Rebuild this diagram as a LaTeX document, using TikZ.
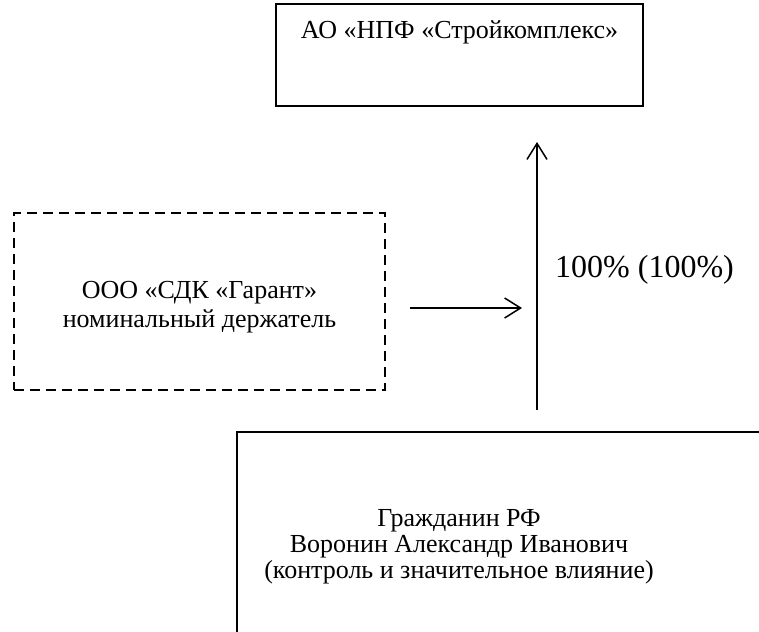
\documentclass[tikz,border=0pt]{standalone}
\usepackage{fontspec}
\setmainfont{Liberation Serif}
\usetikzlibrary{arrows.meta}
\begin{document}
\begin{tikzpicture}[x=1pt,y=-1pt,
  box/.style={draw, line width=1.5pt, inner sep=0pt},
  dbox/.style={draw, line width=2pt, dash pattern=on 10pt off 6pt, inner sep=0pt},
  txt/.style={font=\fontsize{26}{26}\selectfont, align=center, inner sep=0pt},
  arr/.style={line width=1.5pt, -{Straight Barb[length=16pt,width=20pt,line width=1.5pt]}}]
\useasboundingbox (0,0) rectangle (759,631);
\clip (0,0) rectangle (759,631);
% top box
\node[box, minimum width=367pt, minimum height=102pt] (top) at (459.5,55) {};
\node[txt, anchor=center] (toptxt) at (459.5,32) {АО «НПФ «Стройкомплекс»};
% dashed box
\node[dbox, minimum width=371pt, minimum height=177pt] (nom) at (199.5,301.5) {};
\node[txt, font=\fontsize{26}{29}\selectfont] (nomtxt) at (199.5,307) {ООО «СДК «Гарант»\\номинальный держатель};
% bottom box
\node[box, minimum width=540pt, minimum height=220pt] (own) at (507,542) {};
\node[txt] (owntxt) at (459,547) {Гражданин РФ\\Воронин Александр Иванович\\(контроль и значительное влияние)};
% arrows
\coordinate (vs) at (537,410);
\coordinate (ve) at (537,142);
\coordinate (hs) at (410,308);
\coordinate (he) at (522,308);
\draw[arr] (vs) -- (ve);
\draw[arr] (hs) -- (he);
\node[txt, font=\fontsize{32}{32}\selectfont, anchor=west] (pct) at (555,270) {100\% (100\%)};
\end{tikzpicture}
\end{document}
